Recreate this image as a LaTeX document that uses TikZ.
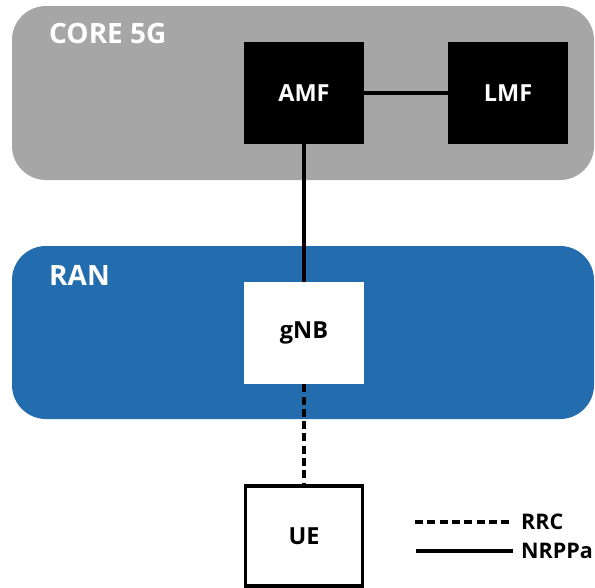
\documentclass[tikz,border=0pt]{standalone}
\usepackage{fontspec}
\setmainfont{Open Sans}[BoldFont={* Bold}]
\begin{document}
\begin{tikzpicture}[x=1pt,y=-1pt,
  zone/.style={rounded corners=34pt},
  corefn/.style={fill=black,text=white,minimum width=120pt,minimum height=102pt,inner sep=0pt,font=\bfseries\fontsize{23.5}{27}\selectfont},
  ranfn/.style={fill=white,text=black,minimum width=120pt,minimum height=102pt,inner sep=0pt,font=\bfseries\fontsize{23.5}{27}\selectfont},
  devbox/.style={draw=black,line width=3.2pt,fill=white,minimum width=117pt,minimum height=100pt,inner sep=0pt,font=\bfseries\fontsize{23.5}{27}\selectfont},
  zonelabel/.style={text=white,anchor=west,inner sep=0pt,font=\bfseries\fontsize{28}{32}\selectfont},
  legendlabel/.style={anchor=west,inner sep=0pt,font=\bfseries\fontsize{21.5}{25}\selectfont},
  nrppa/.style={line width=3.2pt},
  rrc/.style={line width=3.2pt,dash pattern=on 8pt off 4.3pt}]
\useasboundingbox (0,0) rectangle (595,587);
\definecolor{coregrey}{HTML}{A6A6A6}
\definecolor{ranblue}{HTML}{236CAD}

% core network zone
\fill[coregrey,zone] (12,6) rectangle (594,180);
\node[zonelabel] (corelbl) at (49,33) {CORE 5G};

% radio access network zone
\fill[ranblue,zone] (12,246) rectangle (594,419);
\node[zonelabel] (ranlbl) at (49,275) {RAN};

% network functions
\node[corefn] (amf) at (304,93) {AMF};
\node[corefn] (lmf) at (508,93) {LMF};
\node[ranfn] (gnb) at (304,333) {gNB};
\node[devbox] (ue) at (304,536) {UE};

% interfaces
\draw[nrppa] (amf) -- (lmf);
\draw[nrppa] (amf) -- (gnb);
\draw[rrc] (gnb) -- (ue);

% legend
\coordinate (rrcA) at (415,522);
\coordinate (nrA) at (416,551);
\node[legendlabel] (rrclbl) at (521,522) {RRC};
\node[legendlabel] (nrlbl) at (521,551) {NRPPa};
\draw[rrc] (rrcA) -- ([xshift=-8pt]rrclbl.west);
\draw[nrppa] (nrA) -- ([xshift=-8pt]nrlbl.west);
\end{tikzpicture}
\end{document}
